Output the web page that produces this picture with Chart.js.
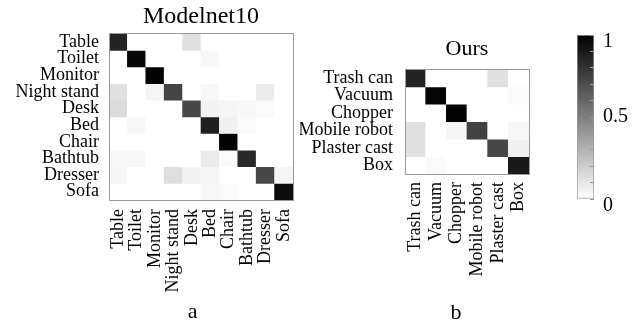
<!DOCTYPE html>
<html>
<head>
<meta charset="utf-8">
<script src="https://cdn.jsdelivr.net/npm/chart.js@4/dist/chart.umd.min.js"></script>
<style>
  html, body { margin: 0; padding: 0; background: #fff; }
  body { width: 639px; height: 327px; position: relative; overflow: hidden; }
  .box { position: absolute; top: 0; }
  canvas { display: block; }
</style>
</head>
<body>
<div class="box" style="left:0px"><canvas id="c1" width="300" height="327"></canvas></div>
<div class="box" style="left:300px"><canvas id="c2" width="240" height="327"></canvas></div>
<div class="box" style="left:540px"><canvas id="c3" width="99" height="327"></canvas></div>
<script>
// ---- Data: Modelnet10 confusion matrix (rows = true class, columns = predicted) ----
const mnLabels = ['Table', 'Toilet', 'Monitor', 'Night stand', 'Desk', 'Bed', 'Chair', 'Bathtub', 'Dresser', 'Sofa'];
const mnMatrix = [
  [0.86, 0.00, 0.00, 0.00, 0.12, 0.00, 0.00, 0.00, 0.00, 0.00],
  [0.00, 0.97, 0.00, 0.00, 0.00, 0.03, 0.00, 0.00, 0.00, 0.00],
  [0.00, 0.00, 0.99, 0.00, 0.00, 0.00, 0.00, 0.00, 0.00, 0.00],
  [0.12, 0.00, 0.04, 0.73, 0.00, 0.03, 0.00, 0.00, 0.08, 0.00],
  [0.14, 0.00, 0.00, 0.00, 0.72, 0.05, 0.04, 0.03, 0.02, 0.00],
  [0.00, 0.03, 0.00, 0.00, 0.00, 0.88, 0.06, 0.02, 0.00, 0.00],
  [0.00, 0.00, 0.00, 0.00, 0.00, 0.00, 0.99, 0.00, 0.00, 0.00],
  [0.03, 0.03, 0.00, 0.00, 0.00, 0.08, 0.02, 0.84, 0.00, 0.00],
  [0.04, 0.00, 0.00, 0.13, 0.05, 0.04, 0.00, 0.00, 0.72, 0.04],
  [0.00, 0.00, 0.00, 0.00, 0.00, 0.03, 0.02, 0.00, 0.00, 0.95]
];
// ---- Data: Ours confusion matrix ----
const ourLabels = ['Trash can', 'Vacuum', 'Chopper', 'Mobile robot', 'Plaster cast', 'Box'];
const ourMatrix = [
  [0.86, 0.00, 0.00, 0.00, 0.12, 0.00],
  [0.00, 0.98, 0.00, 0.00, 0.00, 0.02],
  [0.00, 0.00, 0.99, 0.00, 0.00, 0.00],
  [0.12, 0.00, 0.04, 0.74, 0.00, 0.03],
  [0.12, 0.00, 0.00, 0.00, 0.72, 0.06],
  [0.00, 0.02, 0.00, 0.00, 0.00, 0.90]
];
// ---- Colorbar ----
const cbRange = [0, 1];
const cbTickValues = [0, 0.1, 0.2, 0.3, 0.4, 0.5, 0.6, 0.7, 0.8, 0.9, 1];
const cbTickLabels = { 0: '0', 0.5: '0.5', 1: '1' };
const subLabels = ['a', 'b'];
const titles = ['Modelnet10', 'Ours'];

const FONT = "'Liberation Serif', 'Times New Roman', serif";
const BORDER = '#9a9a9a';

function grayFor(v) {
  const g = Math.round(255 * (1 - v));
  return 'rgb(' + g + ',' + g + ',' + g + ')';
}

function matrixChart(canvasId, labels, matrix, title, sub, L) {
  const datasets = matrix.map((row, r) => ({
    label: labels[r],
    data: row.map(() => 1),
    backgroundColor: row.map(v => grayFor(v)),
    borderWidth: 0,
    barPercentage: 1,
    categoryPercentage: 1
  }));
  return new Chart(document.getElementById(canvasId), {
    type: 'bar',
    data: { labels: labels, datasets: datasets },
    options: {
      responsive: false,
      animation: false,
      events: [],
      layout: { autoPadding: false, padding: { left: 0, right: L.padRight, top: 0, bottom: 0 } },
      plugins: {
        legend: { display: false },
        tooltip: { enabled: false },
        title: {
          display: true, text: title, fullSize: false, color: '#000',
          font: { family: FONT, size: L.titleSize, weight: 'normal' },
          padding: { top: L.titleTop, bottom: L.titleBottom }
        }
      },
      scales: {
        x: {
          type: 'category', position: 'bottom', stacked: true,
          grid: { display: false, drawTicks: false },
          border: { display: true, color: BORDER, width: 1, z: 1 },
          ticks: {
            color: '#000', autoSkip: false, minRotation: 90, maxRotation: 90,
            padding: L.xPad, font: { family: FONT, size: 18 }
          },
          title: {
            display: true, text: sub + L.subShift, color: '#000',
            font: { family: FONT, size: 22 }, padding: { top: 0, bottom: L.subPad }
          },
          afterFit: s => { s.height = L.xHeight; s.paddingLeft = 0; s.paddingRight = 0; }
        },
        y: {
          type: 'linear', position: 'left', stacked: true, reverse: true,
          min: 0, max: labels.length,
          grid: { display: false, drawTicks: false },
          border: { display: true, color: BORDER, width: 1, z: 1 },
          afterBuildTicks: s => { s.ticks = labels.map((_, i) => ({ value: i + 0.5 })); },
          ticks: {
            color: '#000', autoSkip: false, padding: L.yPad,
            font: { family: FONT, size: 18 },
            callback: v => labels[Math.floor(v)]
          },
          afterFit: s => { s.width = L.yWidth; s.paddingTop = 0; s.paddingBottom = 0; }
        },
        xTop: {
          axis: 'x', type: 'linear', position: 'top',
          grid: { display: false, drawTicks: false },
          border: { display: true, color: BORDER, width: 1, z: 1 },
          ticks: { display: false },
          afterFit: s => { s.height = 0; s.paddingLeft = 0; s.paddingRight = 0; }
        },
        yRight: {
          axis: 'y', type: 'linear', position: 'right',
          grid: { display: false, drawTicks: false },
          border: { display: true, color: BORDER, width: 1, z: 1 },
          ticks: { display: false },
          afterFit: s => { s.width = 0; s.paddingTop = 0; s.paddingBottom = 0; }
        }
      }
    }
  });
}

matrixChart('c1', mnLabels, mnMatrix, titles[0], subLabels[0], {
  padRight: 7, titleTop: 2, titleBottom: 3, titleSize: 24, xHeight: 127, yWidth: 109, yPad: 10, xPad: 9, subPad: 2, subShift: '   '
});
matrixChart('c2', ourLabels, ourMatrix, titles[1], subLabels[1], {
  padRight: 11, titleTop: 36, titleBottom: 7, titleSize: 22, xHeight: 153, yWidth: 105, yPad: 12, xPad: 8, subPad: 1, subShift: '    '
});

// ---- Colorbar chart ----
new Chart(document.getElementById('c3'), {
  type: 'bar',
  data: {
    labels: [''],
    datasets: [{
      data: [cbRange],
      barPercentage: 1, categoryPercentage: 1,
      borderWidth: 1, borderColor: BORDER, borderSkipped: false,
      backgroundColor: (ctx) => {
        const ch = ctx.chart;
        const ys = ch.scales.y;
        if (!ch.chartArea || !ys) return '#888';
        const g = ch.ctx.createLinearGradient(0, ys.getPixelForValue(cbRange[0]), 0, ys.getPixelForValue(cbRange[1]));
        g.addColorStop(0, grayFor(cbRange[0]));
        g.addColorStop(1, grayFor(cbRange[1]));
        return g;
      }
    }]
  },
  options: {
    responsive: false,
    animation: false,
    events: [],
    layout: { autoPadding: false, padding: { left: 37, right: 0, top: 35, bottom: 128 } },
    plugins: { legend: { display: false }, tooltip: { enabled: false } },
    scales: {
      x: { display: false },
      y: {
        position: 'right', min: cbRange[0], max: cbRange[1],
        grid: { display: true, drawOnChartArea: false, drawTicks: true, tickLength: -4, color: BORDER, z: 1 },
        border: { display: false },
        afterBuildTicks: s => { s.ticks = cbTickValues.map(v => ({ value: v })); },
        ticks: {
          color: '#000', padding: 13, autoSkip: false,
          font: { family: FONT, size: 20, lineHeight: 0.7 },
          callback: v => {
            const key = Math.round(v * 10) / 10;
            const t = cbTickLabels[key];
            if (t === undefined) return '';
            return key === 0.5 ? t : ['', t];
          }
        },
        afterFit: s => { s.width = 45; s.paddingTop = 0; s.paddingBottom = 0; }
      }
    }
  }
});
</script>
</body>
</html>
